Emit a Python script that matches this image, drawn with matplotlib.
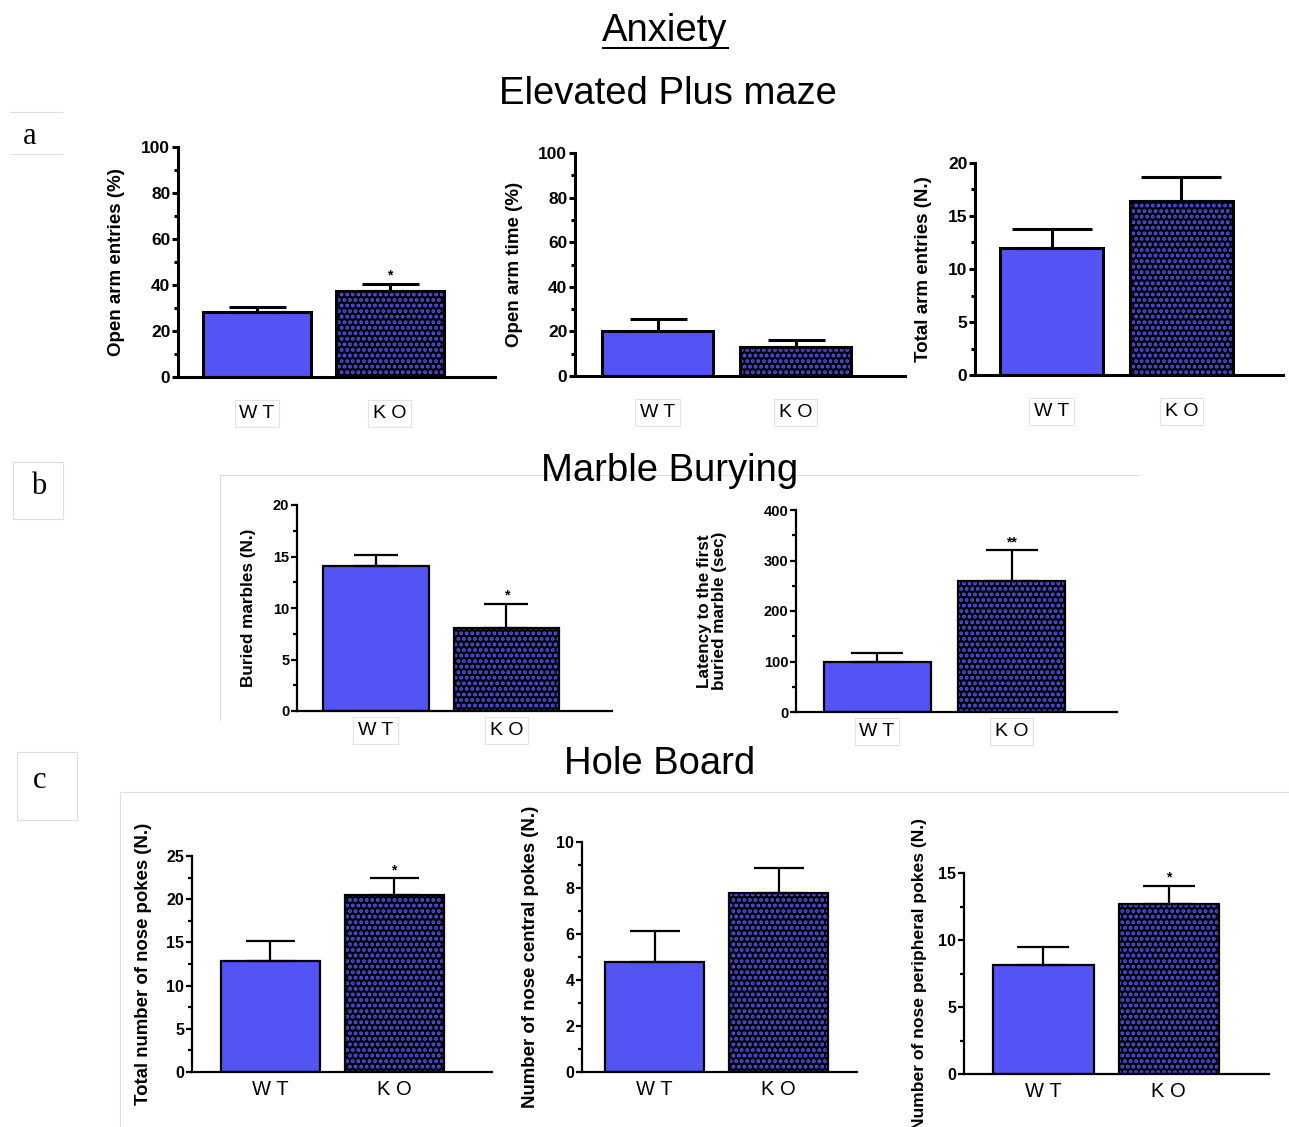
#!/usr/bin/env python3
# Anxiety figure: elevated plus maze, marble burying, hole board (WT vs KO)

import matplotlib
matplotlib.use('Agg')
import matplotlib.pyplot as plt
from matplotlib.patches import Rectangle
from matplotlib.lines import Line2D
from matplotlib.ticker import MultipleLocator

plt.rcParams['font.family'] = ['Liberation Sans', 'DejaVu Sans']
plt.rcParams['hatch.linewidth'] = 1.9

#
#   Data
#
groups = ['W T', 'K O']

open_entries = [28.3, 37.4]
open_entries_sem = [2.3, 3.2]

open_time = [20.2, 13.1]
open_time_sem = [5.2, 3.0]

total_entries = [12.0, 16.4]
total_entries_sem = [1.8, 2.3]

buried = [14.05, 8.1]
buried_sem = [1.1, 2.3]

latency = [100, 259]
latency_sem = [16, 61]

pokes_total = [12.9, 20.5]
pokes_total_sem = [2.3, 1.9]

pokes_central = [4.77, 7.79]
pokes_central_sem = [1.34, 1.1]

pokes_periph = [8.14, 12.7]
pokes_periph_sem = [1.34, 1.35]

ylabels = ['Open arm entries (%)', 'Open arm time (%)',
           'Total arm entries (N.)', 'Buried marbles (N.)',
           'Latency to the first\nburied marble (sec)',
           'Total number of nose pokes (N.)',
           'Number of nose central pokes (N.)',
           'Number of nose peripheral pokes (N.)']
ko_stars = ['*', '', '', '*', '**', '*', '', '*']

#
#   Layout (pixels in the 1289x1127 canvas)
#
W, H = 1289, 1127
WT_BLUE = '#5454f4'

fig = plt.figure(figsize=(W / 100, H / 100), dpi=100)

# left, right, top, bottom, wt centre, ko centre, bar width, cap width,
# ylabel x centre, ylabel size, ymax, major, minor, row style
layout = [
    (178, 495, 147, 377, 257, 389.5, 108, 57, 125, 13.5, 100, 20, 10, 'top'),
    (575, 905, 153, 376, 657.5, 795.5, 111, 57, 523, 13.5, 100, 20, 10, 'top'),
    (975, 1283, 163, 375, 1051.7, 1181.3, 103.5, 80, 932, 13.5, 20, 5, 2.5, 'top'),
    (297, 612, 505, 711, 375.8, 506.3, 105.5, 44, 256, 12.3, 20, 5, 2.5, 'mid'),
    (796, 1117, 510, 712, 877, 1011.7, 107, 53, 727, 12.3, 400, 100, 50, 'mid'),
    (192, 492, 856, 1072, 270, 394, 99, 49, 152, 13.4, 25, 5, 2.5, 'low'),
    (582, 857, 842, 1072, 654.5, 778.5, 99.5, 50, 539, 13.4, 10, 2, 1, 'low'),
    (964, 1269, 873, 1074, 1043.3, 1168.8, 100.5, 53, 927, 12.6, 15, 5, 2.5, 'low'),
]

styles = {
    'top': dict(lw=2.2, tick_fs=12.5, group_fs=14, pad=20, box=True),
    'mid': dict(lw=1.6, tick_fs=10.5, group_fs=14, pad=8, box=True),
    'low': dict(lw=1.6, tick_fs=11.5, group_fs=14.5, pad=6, box=False),
}

values = [open_entries, open_time, total_entries, buried, latency,
          pokes_total, pokes_central, pokes_periph]
sems = [open_entries_sem, open_time_sem, total_entries_sem, buried_sem,
        latency_sem, pokes_total_sem, pokes_central_sem, pokes_periph_sem]


def px_axes(left, right, top, bottom):
    return fig.add_axes([left / W, 1 - bottom / H,
                         (right - left) / W, (bottom - top) / H])


for i, lay in enumerate(layout):
    (left, right, top, bottom, c0, c1, bw, cw, lab_x, lab_fs,
     ymax, major, minor, row) = lay
    st = styles[row]
    ax = px_axes(left, right, top, bottom)
    ax.patch.set_alpha(0)

    spacing = c1 - c0
    width = bw / spacing
    xs = [0, 1]

    # WT bar solid, KO bar black with blue dots
    ax.bar(xs[0], values[i][0], width=width, color=WT_BLUE,
           edgecolor='black', linewidth=st['lw'], zorder=2)
    ax.bar(xs[1], values[i][1], width=width, color='black',
           edgecolor=WT_BLUE, hatch='...', linewidth=0, zorder=2)
    ax.bar(xs[1], values[i][1], width=width, fill=False,
           edgecolor='black', linewidth=st['lw'], zorder=3)

    # upper error bars only
    ax.errorbar(xs, values[i], yerr=[[0, 0], sems[i]], fmt='none',
                ecolor='black', elinewidth=st['lw'], capthick=st['lw'],
                capsize=cw / 2 * 0.72, zorder=4)

    if ko_stars[i]:
        ax.annotate(ko_stars[i], (xs[1], values[i][1] + sems[i][1]),
                    xytext=(0, 1), textcoords='offset points',
                    ha='center', va='bottom', fontsize=10, fontweight='bold')

    ax.set_xlim((left - c0) / spacing, (right - c0) / spacing)
    ax.set_ylim(0, ymax)
    ax.yaxis.set_major_locator(MultipleLocator(major))
    ax.yaxis.set_minor_locator(MultipleLocator(minor))

    for side in ['top', 'right']:
        ax.spines[side].set_visible(False)
    for side in ['left', 'bottom']:
        ax.spines[side].set_linewidth(st['lw'])

    ax.tick_params(axis='y', which='major', direction='out', length=4.5,
                   width=st['lw'], labelsize=st['tick_fs'], pad=1)
    ax.tick_params(axis='y', which='minor', direction='out', length=3,
                   width=st['lw'])
    for lbl in ax.get_yticklabels():
        lbl.set_fontweight('bold')

    ax.set_xticks(xs)
    ax.set_xticklabels(groups, fontsize=st['group_fs'])
    ax.tick_params(axis='x', length=0, pad=st['pad'])
    if st['box']:
        for lbl in ax.get_xticklabels():
            lbl.set_bbox(dict(boxstyle='square,pad=0.25', fc='white',
                              ec='#e2e2e2', lw=0.8))

    ax.set_ylabel(ylabels[i], fontsize=lab_fs, fontweight='bold',
                  linespacing=1.0)
    ax.yaxis.set_label_coords((lab_x - left) / (right - left), 0.5)

#
#   Titles, panel letters and faint frames
#
def ftext(x, y, s, **kw):
    fig.text(x / W, 1 - y / H, s, ha='center', va='center', **kw)


def fline(x0, y0, x1, y1, **kw):
    fig.add_artist(Line2D([x0 / W, x1 / W], [1 - y0 / H, 1 - y1 / H], **kw))


ftext(665, 31, 'Anxiety', fontsize=27.5)
fline(603, 48, 728, 48, color='black', lw=1.5)
ftext(668, 94, 'Elevated Plus maze', fontsize=27.5)
ftext(670, 471, 'Marble Burying', fontsize=27.5)
ftext(660, 764, 'Hole Board', fontsize=27.5)

frame = '#dedede'
fline(220, 475, 1138, 475, color=frame, lw=0.8)
fline(220, 475, 220, 720, color=frame, lw=0.8)
fline(120, 792, 1289, 792, color=frame, lw=0.8)
fline(120, 792, 120, 1127, color=frame, lw=0.8)

fline(10, 112, 62, 112, color=frame, lw=0.8)
fline(10, 154, 62, 154, color=frame, lw=0.8)
for x0, y0, x1, y1 in [(13, 462, 63, 519), (17, 752, 77, 820)]:
    fig.add_artist(Rectangle((x0 / W, 1 - y1 / H), (x1 - x0) / W,
                             (y1 - y0) / H, transform=fig.transFigure,
                             fill=False, ec=frame, lw=0.8))

ftext(30, 137, 'a', fontsize=22, family='Liberation Serif')
ftext(39, 487, 'b', fontsize=22, family='Liberation Serif')
ftext(40, 780, 'c', fontsize=22, family='Liberation Serif')

fig.savefig('out.png', dpi=100)
